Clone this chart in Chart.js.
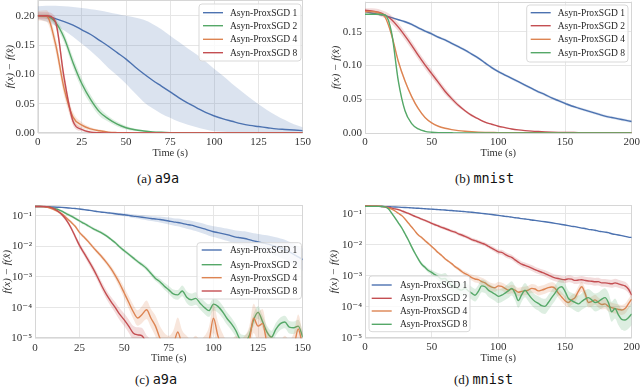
<!DOCTYPE html>
<html lang="en">

<head>
    <meta charset="UTF-8">
    <title>Asyn-ProxSGD | a9a e mnist</title>
    <script src="https://cdn.jsdelivr.net/npm/chart.js"></script>
    <style>
        body {
            margin: 0;
            background: #ffffff;
        }

        .figura {
            position: relative;
            width: 640px;
            height: 390px;
            overflow: hidden;
            background: #ffffff;
        }

        .figura canvas {
            position: absolute;
        }

        .legenda {
            position: absolute;
            font-family: "Liberation Serif", serif;
            font-size: 13px;
            line-height: 14px;
            color: #111111;
            white-space: nowrap;
        }

        .legenda .tt {
            font-family: "DejaVu Sans Mono", monospace;
            font-size: 13.5px;
        }
    </style>
</head>

<body>
    <div class="figura">
        <canvas id="graficoA" width="320" height="165" style="left:0px; top:0px"></canvas>
        <canvas id="graficoB" width="320" height="165" style="left:320px; top:0px"></canvas>
        <canvas id="graficoC" width="320" height="172" style="left:0px; top:195px"></canvas>
        <canvas id="graficoD" width="320" height="172" style="left:320px; top:195px"></canvas>

        <div class="legenda" style="left:137px; top:171px">(a) <span class="tt">a9a</span></div>
        <div class="legenda" style="left:455px; top:171px">(b) <span class="tt">mnist</span></div>
        <div class="legenda" style="left:135px; top:372px">(c) <span class="tt">a9a</span></div>
        <div class="legenda" style="left:454px; top:372px">(d) <span class="tt">mnist</span></div>
    </div>
</body>
<script>

    // ---------- dados ----------
    const rotulos = ['Asyn-ProxSGD 1', 'Asyn-ProxSGD 2', 'Asyn-ProxSGD 4', 'Asyn-ProxSGD 8'];

    const ticksXA9a = [0, 25, 50, 75, 100, 125, 150];
    const ticksXMnist = [0, 50, 100, 150, 200];
    const ticksYA = [0, 0.05, 0.10, 0.15, 0.20];
    const rotulosYA = ['0.00', '0.05', '0.10', '0.15', '0.20'];
    const ticksYB = [0, 0.05, 0.10, 0.15];
    const rotulosYB = ['0.00', '0.05', '0.10', '0.15'];
    const ticksLog = [1e-5, 1e-4, 1e-3, 1e-2, 1e-1];
    const rotulosLog = ['10⁻⁵', '10⁻⁴', '10⁻³', '10⁻²', '10⁻¹'];

    // (a) a9a - escala linear
    const tempoA = [0, 5, 10, 15, 20, 25, 30, 35, 40, 45, 50, 55, 60, 65, 70, 75, 80, 85, 90, 95, 100,
        105, 110, 115, 120, 125, 130, 135, 140, 145, 150];
    const serie1A = [0.200, 0.199, 0.195, 0.190, 0.184, 0.176, 0.168, 0.158, 0.148, 0.137, 0.126, 0.113, 0.101,
        0.090, 0.080, 0.070, 0.060, 0.051, 0.043, 0.035, 0.029, 0.024, 0.020, 0.016, 0.013, 0.011, 0.009, 0.007,
        0.006, 0.005, 0.004];
    const minimo1A = [0.195, 0.190, 0.183, 0.175, 0.164, 0.152, 0.140, 0.126, 0.111, 0.098, 0.084, 0.068, 0.053,
        0.042, 0.033, 0.026, 0.019, 0.014, 0.010, 0.006, 0.003, 0.002, 0.001, 0.001, 0.0005, 0.0004, 0.0003,
        0.0002, 0.0002, 0.0001, 0.0001];
    const maximo1A = [0.216, 0.217, 0.217, 0.216, 0.215, 0.213, 0.211, 0.209, 0.206, 0.203, 0.200, 0.197, 0.193,
        0.186, 0.177, 0.166, 0.155, 0.144, 0.134, 0.122, 0.109, 0.097, 0.084, 0.072, 0.060, 0.049, 0.039, 0.030,
        0.022, 0.015, 0.010];
    const serie2A = [0.200, 0.199, 0.189, 0.162, 0.120, 0.084, 0.057, 0.036, 0.024, 0.015, 0.009, 0.0055, 0.0035,
        0.002, 0.0012, 0.0007, 0.0004, 0.0003, 0.0002, 0.0002, 0.0001, 0.0001, 0.0001, 0, 0, 0, 0, 0, 0, 0, 0];
    const desvio2A = [0.003, 0.004, 0.006, 0.008, 0.009, 0.009, 0.008, 0.007, 0.005, 0.004, 0.003, 0.002, 0.001,
        0.0005, 0.0003, 0.0002, 0, 0, 0, 0, 0, 0, 0, 0, 0, 0, 0, 0, 0, 0, 0];
    const serie4A = [0.200, 0.1995, 0.153, 0.075, 0.027, 0.0135, 0.007, 0.0038, 0.0015, 0.0007, 0.0003, 0.0002,
        0.0001, 0.0001, 0, 0, 0, 0, 0, 0, 0, 0, 0, 0, 0, 0, 0, 0, 0, 0, 0];
    const desvio4A = [0.008, 0.010, 0.012, 0.012, 0.009, 0.005, 0.003, 0.002, 0.001, 0.0005, 0, 0, 0, 0, 0, 0, 0,
        0, 0, 0, 0, 0, 0, 0, 0, 0, 0, 0, 0, 0, 0];
    const serie8A = [0.200, 0.200, 0.190, 0.093, 0.020, 0.006, 0.0015, 0.0005, 0.0002, 0.0001, 0, 0, 0, 0, 0, 0,
        0, 0, 0, 0, 0, 0, 0, 0, 0, 0, 0, 0, 0, 0, 0];
    const desvio8A = [0.006, 0.006, 0.008, 0.010, 0.007, 0.003, 0.001, 0.0005, 0, 0, 0, 0, 0, 0, 0, 0, 0, 0, 0, 0,
        0, 0, 0, 0, 0, 0, 0, 0, 0, 0, 0];

    // (b) mnist - escala linear
    const tempoB = [0, 5, 10, 15, 20, 25, 30, 35, 40, 45, 50, 55, 60, 65, 70, 75, 80, 85, 90, 95, 100, 105, 110,
        115, 120, 125, 130, 135, 140, 145, 150, 155, 160, 165, 170, 175, 180, 185, 190, 195, 200];
    const serie1B = [0.180, 0.178, 0.176, 0.174, 0.171, 0.168, 0.165, 0.161, 0.156, 0.151, 0.147, 0.142, 0.138,
        0.133, 0.128, 0.123, 0.117, 0.111, 0.104, 0.097, 0.091, 0.086, 0.081, 0.076, 0.071, 0.066, 0.061, 0.057,
        0.052, 0.048, 0.044, 0.040, 0.037, 0.034, 0.031, 0.028, 0.025, 0.023, 0.021, 0.019, 0.017];
    const desvio1B = [0.001, 0.001, 0.001, 0.001, 0.001, 0.001, 0.002, 0.002, 0.002, 0.002, 0.002, 0.002, 0.002,
        0.002, 0.002, 0.002, 0.002, 0.002, 0.002, 0.002, 0.002, 0.002, 0.002, 0.002, 0.002, 0.002, 0.002, 0.002,
        0.002, 0.002, 0.002, 0.002, 0.002, 0.002, 0.002, 0.002, 0.002, 0.002, 0.002, 0.002, 0.002];
    const serie2B = [0.182, 0.181, 0.179, 0.175, 0.168, 0.157, 0.144, 0.130, 0.115, 0.101, 0.088, 0.075, 0.062,
        0.051, 0.041, 0.033, 0.026, 0.021, 0.016, 0.013, 0.010, 0.008, 0.006, 0.0046, 0.0036, 0.0028, 0.0022,
        0.0017, 0.0013, 0.0010, 0.0008, 0.0007, 0.0006, 0.0006, 0.0005, 0.0005, 0.0005, 0.0005, 0.0004, 0.0004,
        0.0003];
    const desvio2B = [0.003, 0.004, 0.005, 0.005, 0.006, 0.006, 0.006, 0.006, 0.006, 0.006, 0.006, 0.005, 0.005,
        0.004, 0.003, 0.002, 0.002, 0.001, 0.001, 0.0008, 0.0006, 0.0005, 0.0004, 0.0003, 0.0002, 0.0002, 0.0002,
        0.0001, 0.0001, 0.0001, 0.0001, 0.0001, 0.0001, 0.0001, 0.0001, 0.0001, 0.0001, 0.0001, 0.0001, 0.0001,
        0.0001];
    const serie4B = [0.180, 0.180, 0.178, 0.172, 0.145, 0.106, 0.077, 0.054, 0.036, 0.023, 0.015, 0.010, 0.007,
        0.005, 0.0035, 0.0025, 0.0018, 0.0013, 0.0010, 0.0008, 0.0006, 0.0005, 0.0005, 0.0004, 0.0004, 0.0004,
        0.0003, 0.0003, 0.0003, 0.0003, 0.0002, 0.0002, 0.0002, 0.0002, 0.0002, 0.0002, 0.0002, 0.0002, 0.0001,
        0.0001, 0.0001];
    const desvio4B = [0.002, 0.002, 0.002, 0.002, 0.003, 0.003, 0.003, 0.002, 0.002, 0.001, 0.001, 0.0005, 0.0003,
        0.0002, 0.0001, 0, 0, 0, 0, 0, 0, 0, 0, 0, 0, 0, 0, 0, 0, 0, 0, 0, 0, 0, 0, 0, 0, 0, 0, 0, 0];
    const serie8B = [0.176, 0.176, 0.176, 0.175, 0.148, 0.077, 0.033, 0.014, 0.006, 0.0025, 0.0012, 0.0006,
        0.0004, 0.0003, 0.0002, 0.0002, 0.0001, 0.0001, 0.0001, 0.0001, 0.0001, 0, 0, 0, 0, 0, 0, 0, 0, 0, 0, 0,
        0, 0, 0, 0, 0, 0, 0, 0, 0];
    const desvio8B = [0.001, 0.001, 0.001, 0.001, 0.002, 0.002, 0.001, 0.0005, 0.0002, 0.0001, 0, 0, 0, 0, 0, 0,
        0, 0, 0, 0, 0, 0, 0, 0, 0, 0, 0, 0, 0, 0, 0, 0, 0, 0, 0, 0, 0, 0, 0, 0, 0];

    // (c) a9a - escala log (fatores = largura multiplicativa da faixa)
    const tempoC = [0, 2.5, 5, 7.5, 10, 12.5, 15, 17.5, 20, 22.5, 25, 27.5, 30, 32.5, 35, 37.5, 40, 42.5, 45, 47.5,
        50, 52.5, 55, 57.5, 60, 62.5, 65, 67.5, 70, 72.5, 75, 77.5, 80, 82.5, 85, 87.5, 90, 92.5, 95, 97.5,
        100, 102.5, 105, 107.5, 110, 112.5, 115, 117.5, 120, 122.5, 125, 127.5, 130, 132.5, 135, 137.5, 140,
        142.5, 145, 147.5, 150];
    const serie1C = [0.200, 0.199, 0.197, 0.195, 0.192, 0.189, 0.186, 0.182, 0.177, 0.171,
        0.165, 0.158, 0.151, 0.144, 0.136, 0.130, 0.126, 0.121, 0.116, 0.111,
        0.107, 0.102, 0.097, 0.093, 0.089, 0.085, 0.081, 0.078, 0.075, 0.071,
        0.067, 0.063, 0.060, 0.056, 0.052, 0.049, 0.045, 0.041, 0.037, 0.033,
        0.030, 0.028, 0.026, 0.024, 0.022, 0.020, 0.019, 0.018, 0.0165, 0.015,
        0.014, 0.013, 0.012, 0.011, 0.0098, 0.0088, 0.0078, 0.0066, 0.0055, 0.0045,
        0.0037];
    const fator1C = [1.02, 1.02, 1.02, 1.02, 1.02, 1.02, 1.03, 1.03, 1.03, 1.04,
        1.04, 1.05, 1.05, 1.06, 1.06, 1.07, 1.08, 1.09, 1.10, 1.11,
        1.12, 1.13, 1.15, 1.16, 1.18, 1.19, 1.21, 1.23, 1.25, 1.27,
        1.30, 1.32, 1.34, 1.36, 1.38, 1.40, 1.42, 1.44, 1.46, 1.48,
        1.50, 1.53, 1.56, 1.59, 1.62, 1.65, 1.68, 1.71, 1.74, 1.77,
        1.80, 1.85, 1.90, 1.95, 2.00, 2.05, 2.10, 2.15, 2.20, 2.25,
        2.30];
    const serie2C = [0.200, 0.200, 0.198, 0.192, 0.180, 0.162, 0.140, 0.117, 0.099, 0.082,
        0.067, 0.056, 0.046, 0.038, 0.032, 0.027, 0.022, 0.017, 0.013, 0.0095,
        0.0072, 0.0055, 0.0042, 0.0032, 0.0025, 0.0019, 0.0013, 0.0009, 7e-4, 5e-4,
        3.8e-4, 2.8e-4, 2.6e-4, 3.5e-4, 2.2e-4, 1.8e-4, 2.0e-4, 1.4e-4, 1.0e-4, 8e-5,
        1.3e-4, 1.1e-4, 7.5e-5, 4.5e-5, 3e-5, 1.8e-5, 9e-6, 8e-6, 1.2e-5, 4e-5,
        7e-5, 3.5e-5, 1.6e-5, 1.1e-5, 2e-5, 3e-5, 3.4e-5, 2.3e-5, 2.2e-5, 2.5e-5,
        1.1e-5];
    const fator2C = [1.02, 1.02, 1.02, 1.03, 1.05, 1.08, 1.10, 1.11, 1.12, 1.12,
        1.12, 1.12, 1.12, 1.12, 1.12, 1.12, 1.12, 1.12, 1.13, 1.13,
        1.14, 1.14, 1.15, 1.15, 1.16, 1.18, 1.20, 1.22, 1.25, 1.30,
        1.35, 1.40, 1.45, 1.50, 1.55, 1.60, 1.60, 1.60, 1.60, 1.60,
        1.60, 1.60, 1.60, 1.60, 1.60, 1.60, 1.60, 1.60, 1.60, 1.60,
        1.60, 1.60, 1.60, 1.60, 1.60, 1.60, 1.60, 1.60, 1.60, 1.60,
        1.60];
    const serie4C = [0.200, 0.199, 0.196, 0.185, 0.165, 0.140, 0.114, 0.086, 0.063, 0.045,
        0.028, 0.020, 0.014, 0.0094, 0.0065, 0.0045, 0.0030, 0.0019, 0.0011, 6e-4,
        3e-4, 1.5e-4, 7.5e-5, 4.6e-5, 6e-5, 8.5e-5, 4.5e-5, 2.5e-5, 1e-5, 5e-6,
        4e-6, 6e-6, 1.6e-5, 6e-6, 4e-6, 3e-6, 4e-6, 3e-6, 4e-6, 8e-6,
        4.5e-5, 1.2e-5, 5e-6, 3e-6, 3e-6, 4e-6, 3e-6, 4e-6, 8e-6, 4.5e-5,
        2.5e-5, 3e-5, 7e-6, 4e-6, 3e-6, 3e-6, 4e-6, 3e-6, 5e-6, 2e-5,
        5e-6];
    const fator4C = [1.03, 1.03, 1.04, 1.05, 1.08, 1.10, 1.12, 1.12, 1.12, 1.12,
        1.12, 1.13, 1.14, 1.15, 1.16, 1.18, 1.20, 1.25, 1.30, 1.40,
        1.50, 1.60, 1.70, 1.80, 1.90, 2.00, 2.00, 2.20, 2.50, 3.00,
        3.00, 3.00, 3.00, 3.00, 3.00, 3.00, 3.00, 3.00, 3.00, 3.00,
        3.00, 3.00, 3.00, 3.00, 3.00, 3.00, 3.00, 3.00, 3.00, 3.00,
        3.00, 3.00, 3.00, 3.00, 3.00, 3.00, 3.00, 3.00, 3.00, 3.00,
        3.00];
    const serie8C = [0.200, 0.200, 0.199, 0.193, 0.175, 0.145, 0.110, 0.073, 0.042, 0.021,
        0.0105, 0.0060, 0.0034, 0.0019, 0.0010, 5e-4, 2.7e-4, 1.6e-4, 1e-4, 6e-5,
        4e-5, 2.5e-5, 1.5e-5, 1.3e-5, 1.2e-5, 7e-6, 5e-6, 4e-6, 3e-6, 3e-6,
        3e-6, 3e-6, 3e-6, 3e-6, 3e-6, 3e-6, 3e-6, 3e-6, 3e-6, 3e-6,
        3e-6, 3e-6, 3e-6, 3e-6, 3e-6, 3e-6, 3e-6, 3e-6, 3e-6, 3e-6,
        3e-6, 3e-6, 3e-6, 3e-6, 3e-6, 3e-6, 3e-6, 3e-6, 3e-6, 3e-6,
        3e-6];
    const fator8C = [1.02, 1.02, 1.03, 1.05, 1.08, 1.10, 1.12, 1.15, 1.18, 1.20,
        1.22, 1.25, 1.28, 1.30, 1.33, 1.36, 1.40, 1.45, 1.50, 1.55,
        1.60, 1.65, 1.70, 1.75, 1.80, 1.80, 1.80, 1.80, 1.80, 1.80,
        1.80, 1.80, 1.80, 1.80, 1.80, 1.80, 1.80, 1.80, 1.80, 1.80,
        1.80, 1.80, 1.80, 1.80, 1.80, 1.80, 1.80, 1.80, 1.80, 1.80,
        1.80, 1.80, 1.80, 1.80, 1.80, 1.80, 1.80, 1.80, 1.80, 1.80,
        1.80];

    // (d) mnist - escala log
    const tempoD = [0, 2.5, 5, 7.5, 10, 12.5, 15, 17.5, 20, 22.5, 25, 27.5, 30, 32.5, 35, 37.5, 40, 42.5, 45, 47.5,
        50, 52.5, 55, 57.5, 60, 62.5, 65, 67.5, 70, 72.5, 75, 77.5, 80, 82.5, 85, 87.5, 90, 92.5, 95, 97.5,
        100, 102.5, 105, 107.5, 110, 112.5, 115, 117.5, 120, 122.5, 125, 127.5, 130, 132.5, 135, 137.5, 140,
        142.5, 145, 147.5, 150, 152.5, 155, 157.5, 160, 162.5, 165, 167.5, 170, 172.5, 175, 177.5, 180, 182.5,
        185, 187.5, 190, 192.5, 195, 197.5, 200];
    const serie1D = [0.181, 0.180, 0.179, 0.178, 0.176, 0.175, 0.173, 0.172, 0.170, 0.168,
        0.166, 0.164, 0.162, 0.160, 0.158, 0.155, 0.153, 0.150, 0.148, 0.145,
        0.143, 0.141, 0.138, 0.136, 0.134, 0.131, 0.129, 0.126, 0.124, 0.121,
        0.119, 0.116, 0.114, 0.111, 0.108, 0.105, 0.102, 0.099, 0.096, 0.093,
        0.090, 0.087, 0.084, 0.082, 0.079, 0.076, 0.074, 0.071, 0.069, 0.067,
        0.064, 0.062, 0.060, 0.058, 0.056, 0.054, 0.052, 0.050, 0.048, 0.046,
        0.044, 0.042, 0.040, 0.039, 0.037, 0.035, 0.034, 0.032, 0.031, 0.030,
        0.028, 0.027, 0.026, 0.025, 0.023, 0.022, 0.021, 0.020, 0.019, 0.018,
        0.0175];
    const fator1D = [1.03, 1.03, 1.03, 1.03, 1.03, 1.03, 1.03, 1.03, 1.03, 1.03,
        1.03, 1.03, 1.03, 1.03, 1.03, 1.03, 1.03, 1.03, 1.03, 1.03,
        1.03, 1.03, 1.03, 1.03, 1.03, 1.03, 1.03, 1.03, 1.03, 1.03,
        1.03, 1.03, 1.03, 1.03, 1.03, 1.03, 1.03, 1.03, 1.03, 1.03,
        1.03, 1.03, 1.03, 1.03, 1.03, 1.03, 1.03, 1.03, 1.03, 1.03,
        1.03, 1.03, 1.03, 1.03, 1.03, 1.03, 1.03, 1.03, 1.03, 1.03,
        1.03, 1.03, 1.03, 1.03, 1.03, 1.03, 1.03, 1.03, 1.03, 1.03,
        1.03, 1.03, 1.03, 1.03, 1.03, 1.03, 1.03, 1.03, 1.03, 1.03,
        1.03];
    const serie2D = [0.182, 0.182, 0.180, 0.179, 0.178, 0.174, 0.170, 0.162, 0.155, 0.146,
        0.138, 0.126, 0.115, 0.104, 0.093, 0.084, 0.076, 0.068, 0.062, 0.056,
        0.050, 0.045, 0.041, 0.037, 0.034, 0.031, 0.028, 0.026, 0.023, 0.021,
        0.019, 0.017, 0.015, 0.0138, 0.0126, 0.0115, 0.0105, 0.0091, 0.0079, 0.0069,
        0.0060, 0.0058, 0.0050, 0.0044, 0.0040, 0.0033, 0.0028, 0.0024, 0.0022, 0.0020,
        0.0018, 0.0016, 0.00145, 0.00132, 0.0012, 0.00107, 0.00095, 0.00087, 0.00083, 0.00078,
        0.00076, 0.00081, 0.00079, 0.00072, 0.00074, 0.00076, 0.00072, 0.00069, 0.00068, 0.00065,
        0.00066, 0.0006, 0.0006, 0.00058, 0.00056, 0.0006, 0.00056, 0.00052, 0.00048, 0.00038,
        0.00024];
    const fator2D = [1.02, 1.02, 1.02, 1.02, 1.02, 1.02, 1.02, 1.02, 1.06, 1.07,
        1.08, 1.08, 1.09, 1.09, 1.10, 1.10, 1.10, 1.10, 1.10, 1.10,
        1.11, 1.11, 1.11, 1.12, 1.12, 1.12, 1.12, 1.13, 1.13, 1.13,
        1.14, 1.14, 1.14, 1.15, 1.15, 1.15, 1.16, 1.16, 1.17, 1.18,
        1.20, 1.20, 1.21, 1.21, 1.22, 1.22, 1.23, 1.23, 1.24, 1.24,
        1.25, 1.25, 1.26, 1.26, 1.27, 1.27, 1.28, 1.28, 1.29, 1.29,
        1.30, 1.30, 1.30, 1.31, 1.31, 1.31, 1.32, 1.32, 1.32, 1.33,
        1.33, 1.33, 1.34, 1.34, 1.34, 1.35, 1.35, 1.35, 1.35, 1.35,
        1.35];
    const serie4D = [0.180, 0.180, 0.180, 0.179, 0.178, 0.176, 0.170, 0.158, 0.143, 0.125,
        0.106, 0.089, 0.069, 0.051, 0.038, 0.028, 0.021, 0.0174, 0.0138, 0.0112,
        0.0089, 0.0071, 0.0056, 0.0046, 0.0036, 0.0030, 0.0025, 0.0020, 0.0017, 0.0014,
        0.0012, 0.00105, 0.00089, 0.0008, 0.00076, 0.00066, 0.0006, 0.0005, 0.00044, 0.00042,
        0.00048, 0.00046, 0.0004, 0.00035, 0.00038, 0.00035, 0.0003, 0.00032, 0.00033, 0.00035,
        0.0004, 0.00038, 0.00033, 0.00035, 0.00038, 0.00042, 0.00044, 0.0004, 0.00028, 0.00021,
        0.00016, 0.00014, 0.00017, 0.0002, 0.00032, 0.00045, 0.00028, 0.00014, 0.00015, 0.00017,
        0.00014, 0.00012, 0.000126, 0.000105, 0.000095, 0.000089, 0.000083, 0.00008, 0.000089, 0.000126,
        0.00018];
    const fator4D = [1.04, 1.04, 1.04, 1.04, 1.04, 1.04, 1.04, 1.04, 1.04, 1.04,
        1.04, 1.04, 1.04, 1.04, 1.04, 1.04, 1.08, 1.10, 1.10, 1.10,
        1.10, 1.10, 1.10, 1.10, 1.10, 1.10, 1.10, 1.12, 1.14, 1.16,
        1.18, 1.20, 1.25, 1.30, 1.30, 1.32, 1.32, 1.34, 1.34, 1.35,
        1.35, 1.35, 1.36, 1.36, 1.37, 1.37, 1.38, 1.38, 1.38, 1.39,
        1.39, 1.40, 1.40, 1.40, 1.41, 1.41, 1.42, 1.42, 1.42, 1.43,
        1.43, 1.43, 1.44, 1.44, 1.44, 1.45, 1.45, 1.45, 1.45, 1.45,
        1.45, 1.45, 1.45, 1.45, 1.45, 1.45, 1.45, 1.45, 1.45, 1.45,
        1.45];
    const serie8D = [0.176, 0.176, 0.176, 0.176, 0.176, 0.175, 0.170, 0.148, 0.107, 0.075,
        0.052, 0.036, 0.023, 0.0145, 0.0087, 0.0054, 0.0035, 0.0024, 0.0019, 0.0015,
        0.0013, 0.0011, 0.00095, 0.0008, 0.00083, 0.00063, 0.0005, 0.00045, 0.00038, 0.00035,
        0.0004, 0.00033, 0.00028, 0.00024, 0.00032, 0.00048, 0.00045, 0.00035, 0.0003, 0.00026,
        0.00022, 0.00024, 0.00028, 0.00033, 0.0004, 0.00028, 0.00016, 0.00025, 0.00035, 0.00026,
        0.00019, 0.00015, 0.00013, 0.00011, 0.000105, 0.00014, 0.0002, 0.00028, 0.0004, 0.00045,
        0.00032, 0.00019, 0.00016, 0.00014, 0.000126, 0.00015, 0.00018, 0.0002, 0.00017, 0.00014,
        0.00015, 0.00018, 0.0002, 0.00014, 0.00007, 0.000089, 0.000056, 0.00004, 0.000038, 0.000045,
        0.00006];
    const fator8D = [1.03, 1.03, 1.03, 1.03, 1.03, 1.03, 1.03, 1.08, 1.10, 1.10,
        1.10, 1.12, 1.12, 1.12, 1.12, 1.14, 1.14, 1.15, 1.15, 1.18,
        1.20, 1.25, 1.30, 1.45, 1.50, 1.55, 1.60, 1.60, 1.60, 1.60,
        1.60, 1.60, 1.60, 1.60, 1.60, 1.60, 1.60, 1.65, 1.65, 1.65,
        1.65, 1.65, 1.65, 1.70, 1.70, 1.70, 1.70, 1.70, 1.70, 1.70,
        1.70, 1.70, 1.70, 1.75, 1.75, 1.75, 1.75, 1.75, 1.75, 1.80,
        1.80, 1.80, 1.80, 1.85, 1.85, 1.85, 1.90, 1.90, 1.90, 1.95,
        1.95, 2.00, 2.00, 2.05, 2.10, 2.10, 2.15, 2.20, 2.20, 2.25,
        2.30];

    // ---------- estilo ----------
    const azul = '#4c72b0';
    const laranja = '#dd8452';
    const verde = '#55a868';
    const vermelho = '#c44e52';
    const corGrade = '#e6e6e6';
    const corMoldura = '#d6d6d6';
    const corTexto = '#333333';
    const serifa = '"Liberation Serif", "DejaVu Serif", serif';

    function pontos(tempo, valores) {
        return valores.map(function (v, i) {
            return { x: tempo[i], y: v };
        });
    }

    function transparente(cor, alfa) {
        var r = parseInt(cor.slice(1, 3), 16);
        var g = parseInt(cor.slice(3, 5), 16);
        var b = parseInt(cor.slice(5, 7), 16);
        return `rgba(${r}, ${g}, ${b}, ${alfa})`;
    }

    // faixa linear: media +- desvio
    function faixaLinear(media, desvio) {
        return {
            baixo: media.map((v, i) => v - desvio[i]),
            alto: media.map((v, i) => v + desvio[i])
        };
    }

    // faixa log: media / fator ate media * fator
    function faixaLog(media, fator) {
        return {
            baixo: media.map((v, i) => v / fator[i]),
            alto: media.map((v, i) => v * fator[i])
        };
    }

    function montarDatasets(tempo, series) {
        let datasets = [];
        series.forEach(function (s, k) {
            const ordem = 40 - 10 * k;
            datasets.push({
                data: pontos(tempo, s.faixa.alto), borderColor: 'transparent', borderWidth: 0,
                backgroundColor: transparente(s.cor, s.alfa), fill: '+1', pointRadius: 0,
                order: ordem + 2, cubicInterpolationMode: 'monotone'
            });
            datasets.push({
                data: pontos(tempo, s.faixa.baixo), borderColor: 'transparent', borderWidth: 0,
                fill: false, pointRadius: 0, order: ordem + 2, cubicInterpolationMode: 'monotone'
            });
            datasets.push({
                label: s.rotulo, legenda: true, data: pontos(tempo, s.media), borderColor: s.cor,
                backgroundColor: s.cor, borderWidth: 1.4, fill: false, pointRadius: 0,
                order: ordem + 1, cubicInterpolationMode: 'monotone'
            });
        });
        return datasets;
    }

    // moldura cinza em volta da area do grafico
    const moldura = {
        id: 'moldura',
        beforeDatasetsDraw(chart) {
            const a = chart.chartArea;
            const ctx = chart.ctx;
            ctx.save();
            ctx.strokeStyle = corMoldura;
            ctx.lineWidth = 1;
            ctx.strokeRect(Math.round(a.left) + 0.5, Math.round(a.top) + 0.5,
                Math.round(a.right - a.left) - 1, Math.round(a.bottom - a.top) - 1);
            ctx.restore();
        }
    };

    // legenda em caixa branca dentro do grafico
    const caixaLegenda = {
        id: 'caixaLegenda',
        afterDatasetsDraw(chart, args, op) {
            const ctx = chart.ctx;
            const itens = chart.data.datasets.filter(d => d.legenda);
            const r = 3;
            ctx.save();
            ctx.beginPath();
            ctx.moveTo(op.x + r, op.y);
            ctx.lineTo(op.x + op.w - r, op.y);
            ctx.quadraticCurveTo(op.x + op.w, op.y, op.x + op.w, op.y + r);
            ctx.lineTo(op.x + op.w, op.y + op.h - r);
            ctx.quadraticCurveTo(op.x + op.w, op.y + op.h, op.x + op.w - r, op.y + op.h);
            ctx.lineTo(op.x + r, op.y + op.h);
            ctx.quadraticCurveTo(op.x, op.y + op.h, op.x, op.y + op.h - r);
            ctx.lineTo(op.x, op.y + r);
            ctx.quadraticCurveTo(op.x, op.y, op.x + r, op.y);
            ctx.closePath();
            ctx.fillStyle = 'rgba(255, 255, 255, 0.8)';
            ctx.fill();
            ctx.strokeStyle = '#d9d9d9';
            ctx.lineWidth = 1;
            ctx.stroke();

            ctx.font = `9.5px ${serifa}`;
            ctx.textBaseline = 'middle';
            ctx.textAlign = 'left';
            itens.forEach(function (d, i) {
                const y = op.itensY[i];
                ctx.strokeStyle = d.borderColor;
                ctx.lineWidth = 1.4;
                ctx.beginPath();
                ctx.moveTo(op.linhaX, y);
                ctx.lineTo(op.linhaX + 20, y);
                ctx.stroke();
                ctx.fillStyle = '#262626';
                ctx.fillText(d.label, op.textoX, y + 0.5);
            });
            ctx.restore();
        }
    };

    function criarGrafico(idCanvas, p) {
        return new Chart(document.getElementById(idCanvas), {
            type: 'line',
            data: { datasets: p.datasets },
            options: {
                responsive: false,
                animation: false,
                layout: { padding: p.padding, autoPadding: false },
                plugins: {
                    legend: { display: false },
                    tooltip: { enabled: false },
                    caixaLegenda: p.legenda
                },
                scales: {
                    x: {
                        type: 'linear',
                        min: 0,
                        max: p.xMax,
                        afterBuildTicks: function (eixo) {
                            eixo.ticks = p.ticksX.map(v => ({ value: v }));
                        },
                        afterFit: function (eixo) {
                            eixo.height = p.alturaX;
                            eixo.paddingLeft = 0;
                            eixo.paddingRight = 0;
                        },
                        grid: { color: corGrade, lineWidth: 1, drawTicks: false },
                        border: { display: false },
                        ticks: {
                            font: { family: serifa, size: 11 }, color: corTexto, padding: 3,
                            autoSkip: false, maxRotation: 0
                        },
                        title: {
                            display: true, text: 'Time (s)', color: corTexto,
                            font: { family: serifa, size: 10.5 }, padding: { top: 0, bottom: 0 }
                        }
                    },
                    y: {
                        type: p.tipoY,
                        min: p.yMin,
                        max: p.yMax,
                        afterBuildTicks: function (eixo) {
                            eixo.ticks = p.ticksY.map(v => ({ value: v }));
                        },
                        afterFit: function (eixo) {
                            eixo.width = p.larguraY;
                            eixo.paddingTop = 0;
                            eixo.paddingBottom = 0;
                        },
                        grid: { color: corGrade, lineWidth: 1, drawTicks: false },
                        border: { display: false },
                        ticks: {
                            font: { family: serifa, size: 11 }, color: corTexto, padding: 3,
                            callback: function (valor, i) { return p.rotulosY[i]; }
                        },
                        title: {
                            display: true, text: 'f(x) − f(x̂)', color: corTexto,
                            font: { family: serifa, size: 11, style: 'italic' },
                            padding: { top: p.tituloY, bottom: 0 }
                        }
                    }
                }
            },
            plugins: [moldura, caixaLegenda]
        });
    }

    // (a)
    criarGrafico('graficoA', {
        datasets: montarDatasets(tempoA, [
            { rotulo: rotulos[0], cor: azul, alfa: 0.2, media: serie1A, faixa: { baixo: minimo1A, alto: maximo1A } },
            { rotulo: rotulos[1], cor: verde, alfa: 0.2, media: serie2A, faixa: faixaLinear(serie2A, desvio2A) },
            { rotulo: rotulos[2], cor: laranja, alfa: 0.2, media: serie4A, faixa: faixaLinear(serie4A, desvio4A) },
            { rotulo: rotulos[3], cor: vermelho, alfa: 0.2, media: serie8A, faixa: faixaLinear(serie8A, desvio8A) }
        ]),
        padding: { left: 0, right: 17.3, top: 0, bottom: 5 },
        larguraY: 37.7, alturaX: 27, tituloY: 4,
        xMax: 150, ticksX: ticksXA9a,
        tipoY: 'linear', yMin: 0, yMax: 0.2268, ticksY: ticksYA, rotulosY: rotulosYA,
        legenda: { x: 199, y: 4, w: 102, h: 57, linhaX: 203, textoX: 230, itensY: [12.7, 25.7, 39.3, 52.7] }
    });

    // (b)
    criarGrafico('graficoB', {
        datasets: montarDatasets(tempoB, [
            { rotulo: rotulos[0], cor: azul, alfa: 0.2, media: serie1B, faixa: faixaLinear(serie1B, desvio1B) },
            { rotulo: rotulos[1], cor: vermelho, alfa: 0.2, media: serie2B, faixa: faixaLinear(serie2B, desvio2B) },
            { rotulo: rotulos[2], cor: laranja, alfa: 0.2, media: serie4B, faixa: faixaLinear(serie4B, desvio4B) },
            { rotulo: rotulos[3], cor: verde, alfa: 0.2, media: serie8B, faixa: faixaLinear(serie8B, desvio8B) }
        ]),
        padding: { left: 0, right: 8.3, top: 1.5, bottom: 5 },
        larguraY: 45, alturaX: 27, tituloY: 10,
        xMax: 200, ticksX: ticksXMnist,
        tipoY: 'linear', yMin: 0, yMax: 0.195, ticksY: ticksYB, rotulosY: rotulosYB,
        legenda: { x: 206.7, y: 5, w: 101.3, h: 57, linhaX: 210.7, textoX: 237.7, itensY: [12.7, 25.7, 39.3, 52.7] }
    });

    // (c)
    criarGrafico('graficoC', {
        datasets: montarDatasets(tempoC, [
            { rotulo: rotulos[0], cor: azul, alfa: 0.2, media: serie1C, faixa: faixaLog(serie1C, fator1C) },
            { rotulo: rotulos[1], cor: verde, alfa: 0.2, media: serie2C, faixa: faixaLog(serie2C, fator2C) },
            { rotulo: rotulos[2], cor: laranja, alfa: 0.2, media: serie4C, faixa: faixaLog(serie4C, fator4C) },
            { rotulo: rotulos[3], cor: vermelho, alfa: 0.2, media: serie8C, faixa: faixaLog(serie8C, fator8C) }
        ]),
        padding: { left: 0, right: 17.3, top: 10, bottom: 2 },
        larguraY: 35, alturaX: 26.7, tituloY: 1,
        xMax: 150, ticksX: ticksXA9a,
        tipoY: 'logarithmic', yMin: 1e-5, yMax: 0.223, ticksY: ticksLog, rotulosY: rotulosLog,
        legenda: { x: 197, y: 47.7, w: 104.5, h: 56.3, linhaX: 201.7, textoX: 230, itensY: [55, 69.7, 82.7, 96] }
    });

    // (d)
    criarGrafico('graficoD', {
        datasets: montarDatasets(tempoD, [
            { rotulo: rotulos[0], cor: azul, alfa: 0.2, media: serie1D, faixa: faixaLog(serie1D, fator1D) },
            { rotulo: rotulos[1], cor: vermelho, alfa: 0.2, media: serie2D, faixa: faixaLog(serie2D, fator2D) },
            { rotulo: rotulos[2], cor: laranja, alfa: 0.2, media: serie4D, faixa: faixaLog(serie4D, fator4D) },
            { rotulo: rotulos[3], cor: verde, alfa: 0.2, media: serie8D, faixa: faixaLog(serie8D, fator8D) }
        ]),
        padding: { left: 0, right: 8.3, top: 10, bottom: 2 },
        larguraY: 45, alturaX: 27, tituloY: 8,
        xMax: 200, ticksX: ticksXMnist,
        tipoY: 'logarithmic', yMin: 1e-5, yMax: 0.195, ticksY: ticksLog, rotulosY: rotulosLog,
        legenda: { x: 49, y: 81, w: 101, h: 55.7, linhaX: 51.7, textoX: 80, itensY: [90, 103.3, 116, 129.3] }
    });

</script>

</html>
